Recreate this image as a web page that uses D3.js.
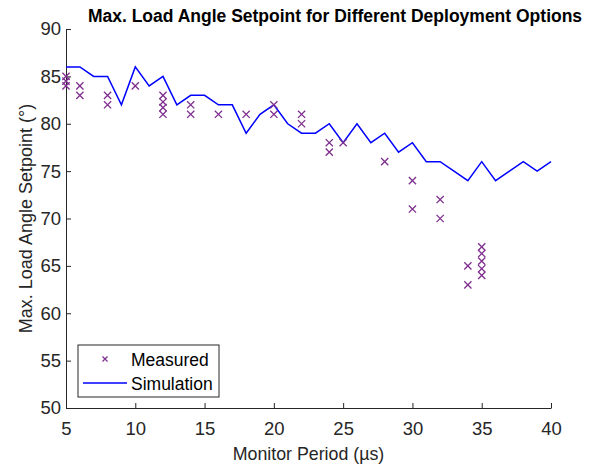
<!DOCTYPE html>
<html><head><meta charset="utf-8">
<script src="https://cdn.jsdelivr.net/npm/d3@7"></script>
<style>body{margin:0;background:#fff}svg{display:block}text{font-family:"Liberation Sans",Arial,sans-serif}</style>
</head><body><svg id="c" width="592" height="467"></svg>
<script>
const simX = [5,6,7,8,9,10,11,12,13,14,15,16,17,18,19,20,21,22,23,24,25,26,27,28,29,30,31,32,33,34,35,36,37,38,39,40];
const simY = [86,86,85,85,82,86,84,85,82,83,83,82,82,79,81,82,80,79,79,80,78,80,78,79,77,78,76,76,75,74,76,74,75,76,75,76];
const measX = [5,5,5,6,6,8,8,10,12,12,12,12,14,14,16,18,20,20,22,22,24,24,25,28,30,30,32,32,34,34,35,35,35,35,35];
const measY = [85,84.5,84,84,83,83,82,84,83,82.3,81.7,81,82,81,81,81,82,81,81,80,78,77,78,76,74,71,72,70,65,63,67,66.3,65.5,64.7,64];
const xTicks = [5,10,15,20,25,30,35,40];
const yTicks = [50,55,60,65,70,75,80,85,90];
const titleText = "Max. Load Angle Setpoint for Different Deployment Options";
const xLabel = "Monitor Period (\u00b5s)";
const yLabel = "Max. Load Angle Setpoint (\u00b0)";
const legendNames = ["Measured","Simulation"];

const svg = d3.select("#c");
const L=66,R=551,T=29,B=408;
const x = d3.scaleLinear().domain([5,40]).range([L,R]);
const y = d3.scaleLinear().domain([50,90]).range([B,T]);
const axisCol = "#262626", purple = "#7E2F8E", blue = "#0000FF";

// axes
const gx = svg.append("g").attr("transform",`translate(0,${B})`)
  .call(d3.axisBottom(x).tickValues(xTicks).tickSizeInner(-5).tickSizeOuter(0).tickPadding(14));
const gy = svg.append("g").attr("transform",`translate(${L},0)`)
  .call(d3.axisLeft(y).tickValues(yTicks).tickSizeInner(-5).tickSizeOuter(0).tickPadding(5));
[gx,gy].forEach(g=>{
  g.select(".domain").attr("stroke",axisCol).attr("stroke-width",1);
  g.selectAll(".tick line").attr("stroke",axisCol);
  g.selectAll(".tick text").attr("fill",axisCol).attr("font-size",18.5).attr("font-family","Liberation Sans, Arial, sans-serif");
});

// simulation line
svg.append("path").datum(simX.map((d,i)=>[d,simY[i]]))
  .attr("fill","none").attr("stroke",blue).attr("stroke-width",1.5)
  .attr("d",d3.line().x(d=>x(d[0])).y(d=>y(d[1])));

// measured crosses
const cs=3.6;
svg.append("g").selectAll("path").data(measX.map((d,i)=>[d,measY[i]])).join("path")
  .attr("d",d=>{const px=x(d[0]),py=y(d[1]);return `M${px-cs},${py-cs}L${px+cs},${py+cs}M${px-cs},${py+cs}L${px+cs},${py-cs}`;})
  .attr("stroke",purple).attr("stroke-width",1.3).attr("fill","none");

// title & labels
svg.append("text").attr("x",335).attr("y",22).attr("text-anchor","middle")
  .attr("font-size",17.5).attr("font-weight","bold").attr("fill","#000").text(titleText);
svg.append("text").attr("x",(L+R)/2).attr("y",460).attr("text-anchor","middle")
  .attr("font-size",17.8).attr("fill",axisCol).text(xLabel);
svg.append("text").attr("transform",`translate(32,${(T+B)/2}) rotate(-90)`).attr("text-anchor","middle")
  .attr("font-size",18).attr("fill",axisCol).text(yLabel);

// legend
const lg = svg.append("g");
lg.append("rect").attr("x",78).attr("y",345).attr("width",141).attr("height",52)
  .attr("fill","#fff").attr("stroke",axisCol).attr("stroke-width",1);
const mx=105,my=359,ls=2.5;
lg.append("path").attr("d",`M${mx-ls},${my-ls}L${mx+ls},${my+ls}M${mx-ls},${my+ls}L${mx+ls},${my-ls}`)
  .attr("stroke",purple).attr("stroke-width",1.2);
lg.append("line").attr("x1",83).attr("x2",127).attr("y1",383).attr("y2",383).attr("stroke",blue).attr("stroke-width",1.5);
lg.append("text").attr("x",131).attr("y",365.5).attr("font-size",17.5).attr("fill","#000").text(legendNames[0]);
lg.append("text").attr("x",131).attr("y",389.5).attr("font-size",17.5).attr("fill","#000").text(legendNames[1]);
</script></body></html>
